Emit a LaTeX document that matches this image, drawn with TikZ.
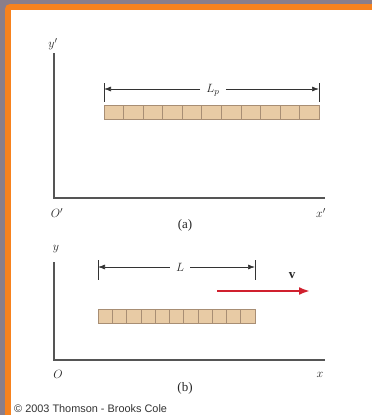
\documentclass[tikz,border=0pt]{standalone}
\usepackage{fontspec}
\setmainfont{Liberation Serif}
\setsansfont{Liberation Sans}
\usetikzlibrary{arrows.meta}
\definecolor{framegray}{HTML}{8A7E8A}
\definecolor{frameorange}{HTML}{F7821E}
\definecolor{rodfill}{HTML}{E8CBA5}
\definecolor{rodline}{HTML}{A88E74}
\definecolor{axisgray}{HTML}{555555}
\definecolor{vred}{HTML}{D0202E}
\tikzset{
  axis/.style={draw=axisgray, line width=1.2pt},
  lbl/.style={inner sep=0pt, text=black!85, font=\fontsize{13}{14}\selectfont},
  captext/.style={inner sep=0pt, text=black!85, font=\fontsize{13}{14}\selectfont},
  dimline/.style={draw=black!80, line width=0.7pt},
  tickline/.style={draw=black!80, line width=0.9pt},
  rodcell/.style={draw=rodline, fill=rodfill, line width=0.6pt},
}
\begin{document}
\begin{tikzpicture}[x=1pt,y=-1pt]
\useasboundingbox (0,0) rectangle (372,415);
% frame
\fill[framegray] (0,0) rectangle (372,415);
\fill[frameorange, rounded corners=5pt] (5,4) rectangle (380,425);
\fill[white] (11,10) rectangle (372,415);

% ---------- panel (a) ----------
\coordinate (oa) at (54,198);
\coordinate (ya) at (54,53);
\coordinate (xa) at (325,198);
\draw[axis] (ya) -- (oa) -- (xa);
\node[lbl] (yalbl) at (53,44) {$y'$};
\node[lbl] (oalbl) at (57,213) {$O'$};
\node[lbl] (xalbl) at (321,213) {$x'$};
\node[captext] (capa) at (185,225) {(a)};
% rod a
\foreach \i in {0,...,10} {
  \draw[rodcell] ({104+\i*(215/11)},105) rectangle ({104+(\i+1)*(215/11)},119);
}
% dimension a
\coordinate (lpl) at (104,89);
\coordinate (lpr) at (319,89);
\draw[tickline] (104,83) -- (104,102);
\draw[tickline] (319,83) -- (319,102);
\node[lbl, fill=white, inner xsep=6pt] (lp) at (213,90) {$L_p$};
\draw[dimline, -{Latex[length=7pt,width=5pt]}] (lp.west |- lpl) -- (lpl);
\draw[dimline, -{Latex[length=7pt,width=5pt]}] (lp.east |- lpr) -- (lpr);

% ---------- panel (b) ----------
\coordinate (ob) at (54,360);
\coordinate (yb) at (54,262);
\coordinate (xb) at (325,360);
\draw[axis] (yb) -- (ob) -- (xb);
\node[lbl] (yblbl) at (56,249) {$y$};
\node[lbl] (oblbl) at (58,374) {$O$};
\node[lbl] (xblbl) at (320,375) {$x$};
\node[captext] (capb) at (185,388) {(b)};
% rod b
\foreach \i in {0,...,10} {
  \draw[rodcell] ({98+\i*(157/11)},309) rectangle ({98+(\i+1)*(157/11)},323);
}
% dimension b
\coordinate (ll) at (98,267);
\coordinate (lr) at (255,267);
\draw[tickline] (98,260) -- (98,280);
\draw[tickline] (255,260) -- (255,280);
\node[lbl, fill=white, inner xsep=6pt] (lb) at (180,267) {$L$};
\draw[dimline, -{Latex[length=7pt,width=5pt]}] (lb.west |- ll) -- (ll);
\draw[dimline, -{Latex[length=7pt,width=5pt]}] (lb.east |- lr) -- (lr);
% velocity
\coordinate (vs) at (217,291);
\coordinate (ve) at (310,291);
\draw[vred, line width=2.4pt, -{Latex[length=11pt,width=8pt]}] (vs) -- (ve);
\node[lbl] (vlbl) at (292,276) {$\mathbf{v}$};

% copyright
\node[inner sep=0pt, anchor=west, font=\sffamily\fontsize{10.9}{12}\selectfont, text=black!80] (copy) at (14,409) {\textcopyright{} 2003 Thomson - Brooks Cole};
\end{tikzpicture}
\end{document}
